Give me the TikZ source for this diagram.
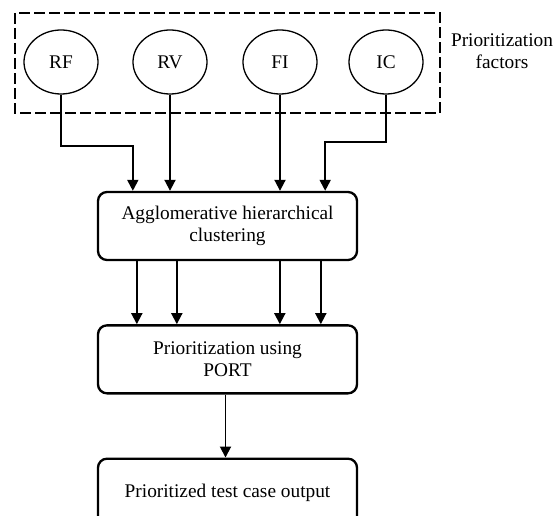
\documentclass[tikz,border=0pt]{standalone}
\usepackage{fontspec}
\setmainfont{Liberation Serif}
\usetikzlibrary{shapes.geometric, arrows.meta, positioning, calc}
\tikzset{
    factor/.style={ellipse, draw, line width=1.1pt, minimum width=2.22cm, minimum height=1.92cm, inner sep=0pt},
    block/.style={rectangle, draw, line width=2pt, rounded corners=0.27cm, minimum width=7.77cm, minimum height=2.04cm, align=center},
    arrow/.style={-{Triangle[length=0.33cm, width=0.33cm]}, line width=1.6pt},
    groupbox/.style={draw, line width=2.4pt, dash pattern=on 0.32cm off 0.13cm},
}

\begin{document}
\begin{tikzpicture}[x=0.03cm, y=-0.03cm, font=\fontsize{16.5pt}{18.8pt}\selectfont]
    \useasboundingbox (0,0) rectangle (560,516);

    % Prioritization factors
    \node[factor] (rf) at (61,62) {RF};
    \node[factor] (rv) at (170,62) {RV};
    \node[factor] (fi) at (280,62) {FI};
    \node[factor] (ic) at (386,62) {IC};
    \draw[groupbox] (15,13) rectangle (440,113);
    \node[align=center] (factors) at (502,51) {Prioritization\\factors};

    % Steps
    \node[block] (agg) at (227.5,226) {Agglomerative hierarchical\\clustering};
    \node[block, below=1.89cm of agg] (port) {Prioritization using\\PORT};
    \node[block, below=1.89cm of port] (out) {Prioritized test case output};

    % Factors into clustering
    \draw[arrow] (rf.south) |- ($(agg.north west)+(36,-45)$) -- ($(agg.north west)+(36,0)$);
    \draw[arrow] (rv.south) -- (rv.south |- agg.north);
    \draw[arrow] (fi.south) -- (fi.south |- agg.north);
    \draw[arrow] (ic.south) |- ($(agg.north east)+(-33,-49)$) -- ($(agg.north east)+(-33,0)$);

    % Clusters into PORT
    \foreach \dx in {40,80,183,224}
        \draw[arrow] ($(agg.south west)+(\dx,0)$) -- ($(port.north west)+(\dx,0)$);
    \draw[arrow] ($(port.south)+(-2,0)$) -- ($(out.north)+(-2,0)$);
\end{tikzpicture}
\end{document}
